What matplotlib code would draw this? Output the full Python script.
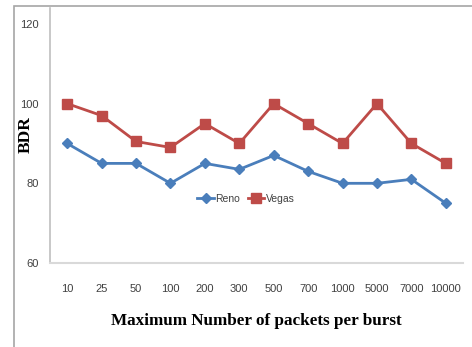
import matplotlib
matplotlib.use("Agg")
import matplotlib.pyplot as plt
from matplotlib.patches import Rectangle

categories = ["10", "25", "50", "100", "200", "300", "500", "700", "1000", "5000", "7000", "10000"]
reno = [90, 85, 85, 80, 85, 83.5, 87, 83, 80, 80, 81, 75]
vegas = [100, 97, 90.5, 89, 95, 90, 100, 95, 90, 100, 90, 85]
yticks = [60, 80, 100, 120]

tick_font = ["Liberation Sans Narrow", "Liberation Sans", "DejaVu Sans"]
serif_font = ["Liberation Serif", "DejaVu Serif"]

fig = plt.figure(figsize=(4.72, 3.47), dpi=100)
fig.patches.append(Rectangle((14/472, -0.1), 1.0, 1 - 6/347 + 0.1, transform=fig.transFigure,
                             fill=False, edgecolor="#a6a6a6", linewidth=1.2))
ax = fig.add_axes([50/472, 84/347, 413/472, (263-8)/347])

x = list(range(len(categories)))
ax.plot(x, reno, color="#4A7EBB", linewidth=2.0, marker="D", markersize=5, label="Reno")
ax.plot(x, vegas, color="#BE4B48", linewidth=2.0, marker="s", markersize=6.5, label="Vegas")

ax.set_xlim(-0.5, len(categories) - 0.5)
ax.set_ylim(60, 124)
ax.set_yticks(yticks)
ax.set_yticklabels([str(v) for v in yticks], fontfamily=tick_font, fontsize=8, color="#404040")
ax.set_xticks(x)
ax.set_xticklabels(categories, fontfamily=tick_font, fontsize=8, color="#404040")
ax.tick_params(axis="both", length=0)
ax.tick_params(axis="x", pad=15)
ax.tick_params(axis="y", pad=8)

for s in ["top", "right"]:
    ax.spines[s].set_visible(False)
ax.spines["left"].set_color("#bfbfbf")
ax.spines["bottom"].set_color("#d9d9d9")
ax.spines["left"].set_linewidth(1.2)
ax.spines["bottom"].set_linewidth(1.5)

ax.set_xlabel("Maximum Number of packets per burst", fontfamily=serif_font,
              fontweight="bold", fontsize=12.3, labelpad=14)
ax.set_ylabel("BDR", fontfamily=serif_font, fontweight="bold", fontsize=12.5)
ax.yaxis.set_label_coords((34-50)/413, (263-135)/255)

leg = ax.legend(loc="center", ncol=2, frameon=False, prop={"family": tick_font, "size": 7.5},
                handlelength=1.6, handletextpad=0.15, columnspacing=0.7, labelcolor="#404040")
leg.set_bbox_to_anchor(((246-50)/413, (263-199)/255), transform=ax.transAxes)

fig.savefig("out.png", dpi=100)
